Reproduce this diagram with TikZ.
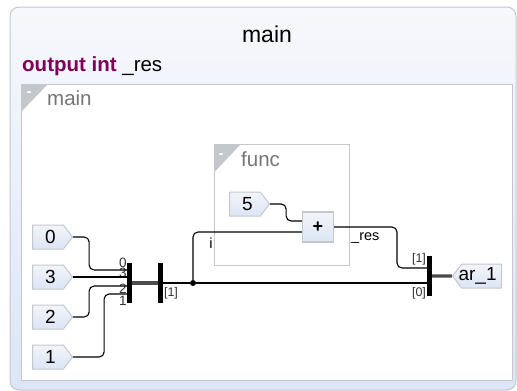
\documentclass[tikz,border=0pt]{standalone}
\usepackage{fontspec}
\setmainfont{Liberation Sans}
\usetikzlibrary{shapes.symbols}
\definecolor{keyword}{HTML}{7F0055}
\definecolor{frame}{HTML}{C4C7CC}
\definecolor{caption}{HTML}{767676}
\definecolor{paneltop}{HTML}{F7F8FC}
\definecolor{panelbottom}{HTML}{DCE6F6}
\definecolor{porttop}{HTML}{F2F4F9}
\tikzset{
  wire/.style={black,line width=1.1pt,rounded corners=5pt},
  busline/.style={black!70,line width=3.4pt},
  bar/.style={fill=black,inner sep=0pt,minimum width=4.6pt,minimum height=40pt},
  port/.style={signal,signal to=east,signal pointer angle=105,draw=frame,line width=1pt,top color=porttop,bottom color=panelbottom,
    inner sep=0pt,anchor=west,minimum width=40pt,minimum height=24pt,font=\fontsize{19}{23}\selectfont,
    execute at begin node=\hspace{5pt}},
  outport/.style={port,signal to=west,anchor=east,minimum width=49pt,inner xsep=-9pt,
    execute at begin node=,execute at end node=\hspace{13pt}},
  pin/.style={inner sep=0pt,font=\fontsize{13.5}{15}\selectfont,text=black!80},
  index/.style={inner sep=0pt,font=\fontsize{12.5}{15}\selectfont,text=black!80},
  note/.style={inner sep=0pt,font=\fontsize{14.5}{17}\selectfont},
  title/.style={inner sep=0pt,font=\fontsize{23}{27}\selectfont},
  decl/.style={inner sep=0pt,font=\fontsize{20.5}{24}\selectfont},
  capname/.style={inner sep=0pt,text=caption,font=\fontsize{20.5}{24}\selectfont},
  minus/.style={inner sep=0pt,text=white,font=\bfseries\fontsize{15}{17}\selectfont}
}
\begin{document}
\begin{tikzpicture}[x=1pt,y=-1pt]
      \useasboundingbox (0,0) rectangle (517,391);
      % frames
      \draw[frame,line width=1pt,rounded corners=9pt,top color=paneltop,bottom color=panelbottom] (10,7) rectangle (516,390);
      \draw[frame,line width=1pt,fill=white] (21,84) rectangle (512,380);
      \fill[frame] (21,84) -- (48,84) -- (21,112) -- cycle;
      \draw[frame,line width=1pt] (214.5,144) rectangle (349,265);
      \fill[frame] (214.5,144) -- (241,144) -- (214.5,172) -- cycle;
      \draw
        (267,34) node[title] (top){main}
        (22,66) node[decl,anchor=west] (declname){\textcolor{keyword}{\textbf{output int}} \_res}
        (47,98) node[capname,anchor=west] (mainname){main}
        (241,159) node[capname,anchor=west] (funcname){func}
        (29,94) node[minus] (mainminus){-}
        (221,156) node[minus] (funcminus){-}
        (32,237) node[port] (in0){0}
        (32,277) node[port] (in3){3}
        (32,317) node[port] (in2){2}
        (32,357) node[port] (in1){1}
        (229,204) node[port] (in5){5}
        (318,227) node[draw=frame,line width=1.4pt,top color=porttop,bottom color=panelbottom,minimum width=31pt,minimum height=30pt,inner sep=0pt,font=\bfseries\fontsize{18}{20}\selectfont] (add){+}
        (129.5,283) node[bar] (join){}
        (160.5,283) node[bar] (slice){}
        (429.5,276) node[bar] (pack){}
        (502,276) node[outport] (out){ar\_1}
        (193,283) node[circle,fill=black,inner sep=0pt,minimum size=6pt] (tap){};
      \draw
        (123,263) node[pin] (l0){0}
        (123,273) node[pin] (l3){3}
        (123,289) node[pin] (l2){2}
        (123,301) node[pin] (l1){1}
        (171,293) node[index] (lslice){[1]}
        (211,243) node[note] (li){i}
        (351,238) node[note,anchor=west] (lres){\_res}
        (419,259) node[index] (lhi){[1]}
        (419,293) node[index] (llo){[0]};
      \coordinate (p0) at (join.west |- 0,270);
      \coordinate (p3) at (join.west |- in3);
      \coordinate (p2) at (join.west |- 0,286);
      \coordinate (p1) at (join.west |- 0,294);
      \coordinate (hi) at (pack.west |- 0,268);
      \coordinate (lo) at (pack.west |- 0,283);
      \begin{scope}[wire]
        \draw (in0.east) -- ++(16,0) |- (p0);
        \draw (in3.east) to (p3);
        \draw (in2.east) -- ++(16,0) |- (p2);
        \draw (in1.east) -- ++(31,0) |- (p1);
        \draw (slice.east) to (tap);
        \draw (tap) to (lo);
        \draw (tap) |- (add.west |- 0,232);
        \draw (in5.east) -- ++(16,0) |- (add.west |- 0,221);
        \draw (add.east) -- (397,227) |- (hi);
      \end{scope}
      \begin{scope}[busline]
        \draw (join) to (slice);
        \draw (pack) to (out);
      \end{scope}
    \end{tikzpicture}
\end{document}
